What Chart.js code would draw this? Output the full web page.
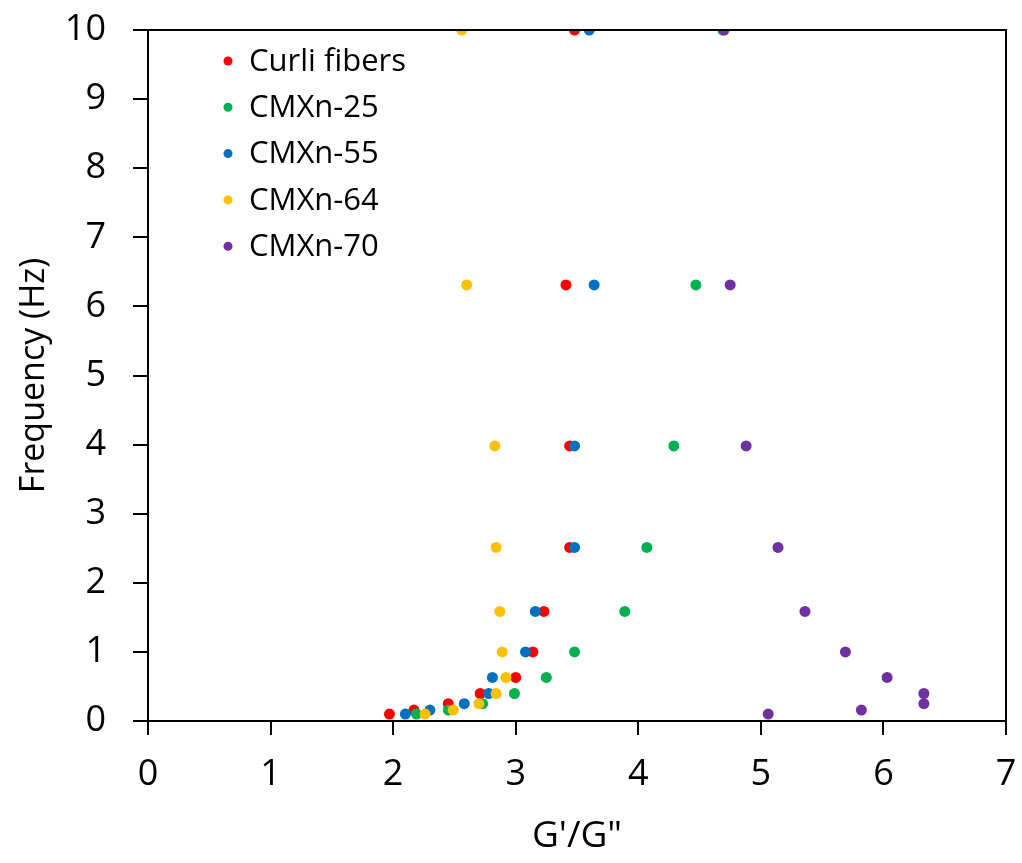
<!DOCTYPE html>
<html>
<head>
<meta charset="utf-8">
<script src="https://cdn.jsdelivr.net/npm/chart.js@4/dist/chart.umd.min.js"></script>
<style>
  html, body { margin: 0; padding: 0; background: #fff; }
  #wrap { width: 1022px; height: 863px; }
</style>
</head>
<body>
<div id="wrap"><canvas id="chart"></canvas></div>
<script>
// Frequencies (Hz), shared by all series
const freq = [0.1, 0.158, 0.251, 0.398, 0.631, 1, 1.585, 2.512, 3.981, 6.31, 10];

// G'/G'' per series, same order as freq
const curli = [1.97, 2.17, 2.45, 2.71, 3.00, 3.14, 3.23, 3.44, 3.44, 3.41, 3.48];
const cmxn25 = [2.19, 2.45, 2.73, 2.99, 3.25, 3.48, 3.89, 4.07, 4.29, 4.47, 4.69];
const cmxn55 = [2.10, 2.30, 2.58, 2.78, 2.81, 3.08, 3.16, 3.48, 3.48, 3.64, 3.60];
const cmxn64 = [2.26, 2.49, 2.70, 2.84, 2.92, 2.89, 2.87, 2.84, 2.83, 2.60, 2.56];
const cmxn70 = [5.06, 5.82, 6.33, 6.33, 6.03, 5.69, 5.36, 5.14, 4.88, 4.75, 4.70];

const seriesNames = ['Curli fibers', 'CMXn-25', 'CMXn-55', 'CMXn-64', 'CMXn-70'];
const seriesColors = ['#FF0000', '#00B050', '#0070C0', '#FFC000', '#7030A0'];
const seriesValues = [curli, cmxn25, cmxn55, cmxn64, cmxn70];

const xTicks = [0, 1, 2, 3, 4, 5, 6, 7];
const yTicks = [0, 1, 2, 3, 4, 5, 6, 7, 8, 9, 10];

const FONT = 'Open Sans, Lato, sans-serif';

function toPoints(values) {
  return values.map((v, i) => ({ x: v, y: freq[i] }));
}

// Later series on top, like the original
const datasets = seriesNames.map((name, i) => ({
  label: name,
  data: toPoints(seriesValues[i]),
  backgroundColor: seriesColors[i],
  borderWidth: 0,
  pointRadius: 5.5,
  order: seriesNames.length - i,
}));

// labels may hang outside the plot box; don't let them shrink it
function noOverflow(axis) {
  axis.paddingTop = 0;
  axis.paddingBottom = 0;
  axis.paddingLeft = 0;
  axis.paddingRight = 0;
}

const frameAndLegend = {
  id: 'frameAndLegend',
  afterDraw(chart) {
    const { ctx, chartArea } = chart;
    ctx.save();
    ctx.strokeStyle = '#000';
    ctx.lineWidth = 2;
    ctx.strokeRect(chartArea.left, chartArea.top, chartArea.right - chartArea.left, chartArea.bottom - chartArea.top);

    ctx.font = '31px ' + FONT;
    ctx.textBaseline = 'middle';
    chart.data.datasets.forEach((ds, i) => {
      const y = 61 + i * 46.3;
      ctx.beginPath();
      ctx.arc(228, y, 4.5, 0, Math.PI * 2);
      ctx.fillStyle = ds.backgroundColor;
      ctx.fill();
      ctx.fillStyle = '#000';
      ctx.fillText(ds.label, 249, y + 1);
    });
    ctx.restore();
  },
};

new Chart(document.getElementById('chart'), {
  type: 'scatter',
  data: { datasets },
  plugins: [frameAndLegend],
  options: {
    responsive: true,
    maintainAspectRatio: false,
    animation: false,
    layout: { padding: { top: 30, right: 16, left: 0, bottom: 0 } },
    plugins: {
      legend: { display: false },
      tooltip: { enabled: false },
    },
    scales: {
      x: {
        type: 'linear',
        min: 0,
        max: 7,
        afterBuildTicks(axis) { axis.ticks = xTicks.map((v) => ({ value: v })); },
        afterFit(axis) { axis.height = 142; noOverflow(axis); },
        grid: { display: true, drawOnChartArea: false, drawTicks: true, tickLength: 14, color: '#000', lineWidth: 2 },
        border: { display: true, color: '#000', width: 2 },
        ticks: { color: '#000', font: { family: FONT, size: 36 }, padding: 18 },
        title: { display: true, text: 'G\'/G"', color: '#000', font: { family: FONT, size: 37 }, padding: { top: 0, bottom: 4 } },
      },
      y: {
        type: 'linear',
        min: 0,
        max: 10,
        afterBuildTicks(axis) { axis.ticks = yTicks.map((v) => ({ value: v })); },
        afterFit(axis) { axis.width = 148; noOverflow(axis); },
        grid: { display: true, drawOnChartArea: false, drawTicks: true, tickLength: 15, color: '#000', lineWidth: 2 },
        border: { display: true, color: '#000', width: 2 },
        ticks: { color: '#000', font: { family: FONT, size: 36 }, padding: 27 },
        title: { display: true, text: 'Frequency (Hz)', color: '#000', font: { family: FONT, size: 34 }, padding: { top: 14, bottom: 0 } },
      },
    },
  },
});
</script>
</body>
</html>
